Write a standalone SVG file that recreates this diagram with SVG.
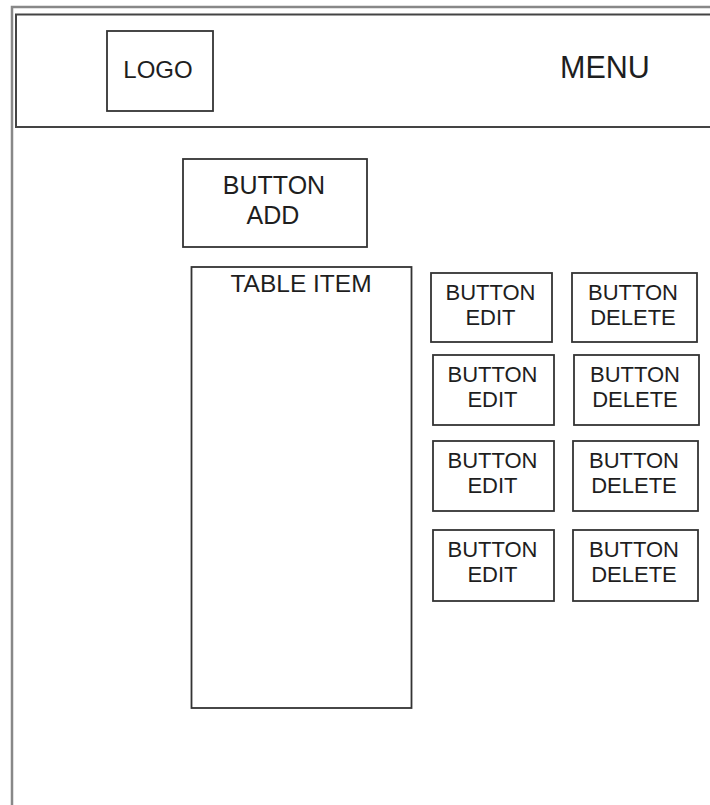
<svg xmlns="http://www.w3.org/2000/svg" width="710" height="805" viewBox="0 0 710 805">
<style>
.box{fill:#fff;stroke:#333;stroke-width:1.8}
.t{font-family:"Liberation Sans",Arial,sans-serif;fill:#1e1e1e;text-anchor:middle}
.s{font-size:22px}
</style>
<rect x="0" y="0" width="710" height="805" fill="#fff"/>
<g id="frame">
<rect x="12" y="7" width="720" height="820" fill="none" stroke="#888" stroke-width="2.5"/>
</g>
<g id="header">
<rect x="16" y="14.5" width="720" height="112.5" fill="none" stroke="#444" stroke-width="2"/>
</g>
<g id="logo">
<rect class="box" x="107" y="31" width="106" height="80"/>
<text class="t" x="158" y="78" style="font-size:24px">LOGO</text>
</g>
<g id="menu">
<text class="t" x="605" y="78" style="font-size:30.5px">MENU</text>
</g>
<g id="button-add">
<rect class="box" x="183" y="159" width="184" height="88"/>
<text class="t" x="274" y="194" style="font-size:25px">BUTTON</text>
<text class="t" x="273" y="224" style="font-size:25px">ADD</text>
</g>
<g id="table-item">
<rect class="box" x="191.5" y="267" width="220" height="441"/>
<text class="t" x="301" y="292" style="font-size:24.5px">TABLE ITEM</text>
</g>
<g id="edit-1"><rect class="box" x="431" y="273" width="121" height="69"/><text class="t s" x="490.5" y="300">BUTTON</text><text class="t s" x="490.5" y="325">EDIT</text></g>
<g id="delete-1"><rect class="box" x="572" y="273" width="125" height="69"/><text class="t s" x="633" y="300">BUTTON</text><text class="t s" x="633" y="325">DELETE</text></g>
<g id="edit-2"><rect class="box" x="433" y="355" width="121" height="70"/><text class="t s" x="492.5" y="382">BUTTON</text><text class="t s" x="492.5" y="407">EDIT</text></g>
<g id="delete-2"><rect class="box" x="574" y="355" width="125" height="70"/><text class="t s" x="635" y="382">BUTTON</text><text class="t s" x="635" y="407">DELETE</text></g>
<g id="edit-3"><rect class="box" x="433" y="441" width="121" height="70"/><text class="t s" x="492.5" y="468">BUTTON</text><text class="t s" x="492.5" y="493">EDIT</text></g>
<g id="delete-3"><rect class="box" x="573" y="441" width="125" height="70"/><text class="t s" x="634" y="468">BUTTON</text><text class="t s" x="634" y="493">DELETE</text></g>
<g id="edit-4"><rect class="box" x="433" y="530" width="121" height="71"/><text class="t s" x="492.5" y="557">BUTTON</text><text class="t s" x="492.5" y="582">EDIT</text></g>
<g id="delete-4"><rect class="box" x="573" y="530" width="125" height="71"/><text class="t s" x="634" y="557">BUTTON</text><text class="t s" x="634" y="582">DELETE</text></g>
<g id="connectors"></g>
</svg>
